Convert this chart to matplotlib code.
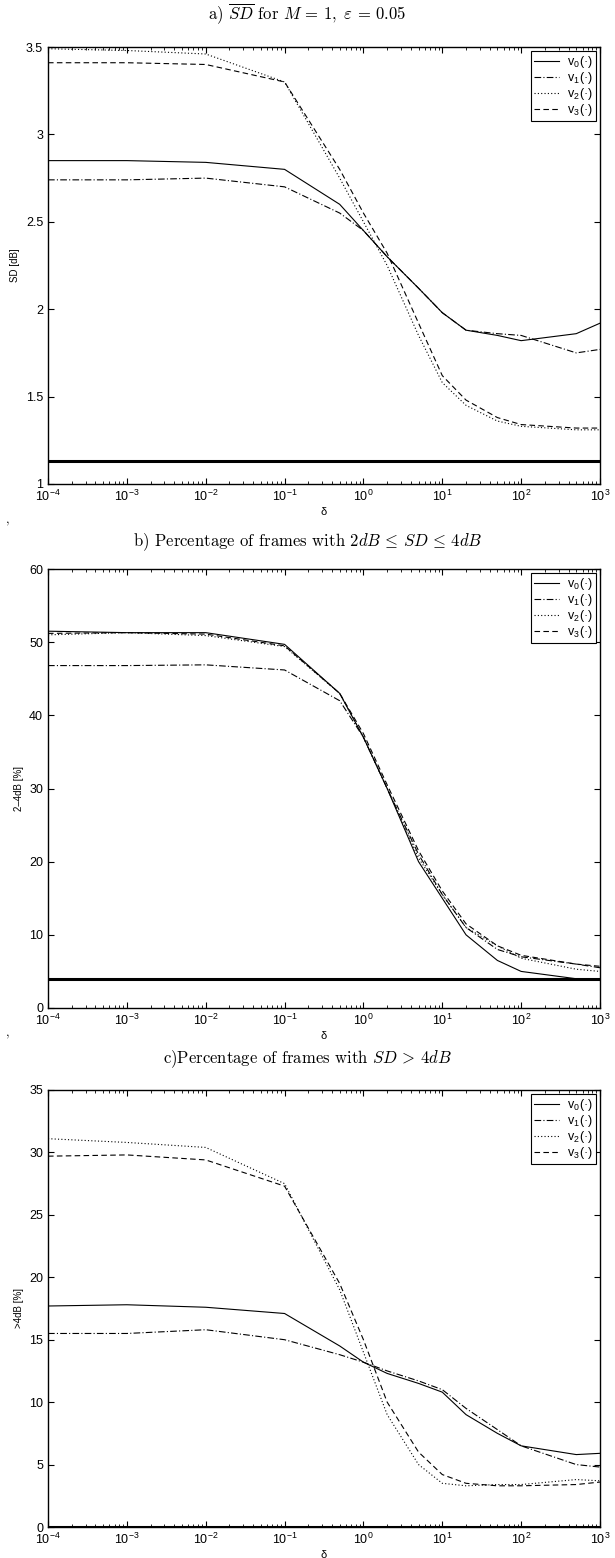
#!/usr/bin/env python3
"""Recreate the three-panel SD vs delta figure."""

import matplotlib
matplotlib.use("Agg")
import matplotlib.pyplot as plt
from matplotlib.ticker import NullFormatter

plt.rcParams.update({
    "font.family": ["Liberation Sans", "DejaVu Sans"],
    "font.size": 8,
    "mathtext.fontset": "cm",
    "xtick.direction": "in",
    "ytick.direction": "in",
    "xtick.top": True,
    "ytick.right": True,
})

# delta values at which curves were evaluated
delta = [1e-4, 1e-3, 1e-2, 1e-1, 0.5, 1, 2, 5, 10, 20, 50, 100, 500, 1000]

# a) mean SD [dB]
sd_v0 = [2.85, 2.85, 2.84, 2.80, 2.60, 2.45, 2.30, 2.12, 1.98, 1.88, 1.85, 1.82, 1.86, 1.92]
sd_v1 = [2.74, 2.74, 2.75, 2.70, 2.55, 2.45, 2.30, 2.12, 1.98, 1.88, 1.86, 1.85, 1.75, 1.77]
sd_v2 = [3.49, 3.48, 3.46, 3.30, 2.75, 2.50, 2.25, 1.85, 1.58, 1.45, 1.36, 1.33, 1.31, 1.31]
sd_v3 = [3.41, 3.41, 3.40, 3.30, 2.80, 2.55, 2.32, 1.92, 1.62, 1.48, 1.38, 1.34, 1.32, 1.32]
sd_ref = 1.13

# b) percentage of frames with 2dB <= SD <= 4dB
mid_v0 = [51.5, 51.3, 51.3, 49.7, 43.0, 37.0, 30.0, 20.0, 15.0, 10.0, 6.5, 5.0, 4.0, 4.0]
mid_v1 = [46.8, 46.8, 46.9, 46.2, 42.0, 37.0, 30.0, 21.0, 15.5, 11.0, 8.0, 7.0, 6.0, 5.5]
mid_v2 = [51.0, 51.3, 50.9, 49.4, 43.0, 37.0, 30.0, 20.5, 15.5, 11.0, 8.5, 6.8, 5.3, 5.0]
mid_v3 = [51.2, 51.3, 51.1, 49.5, 43.0, 37.5, 30.5, 21.5, 16.0, 11.5, 8.5, 7.2, 6.0, 5.7]
mid_ref = 4.0

# c) percentage of frames with SD > 4dB
hi_v0 = [17.7, 17.8, 17.6, 17.1, 14.5, 13.2, 12.3, 11.5, 10.8, 9.0, 7.5, 6.5, 5.8, 5.9]
hi_v1 = [15.5, 15.5, 15.8, 15.0, 13.8, 13.2, 12.5, 11.7, 11.0, 9.5, 7.8, 6.5, 5.0, 4.8]
hi_v2 = [31.1, 30.8, 30.4, 27.5, 19.0, 14.0, 9.0, 5.0, 3.5, 3.3, 3.4, 3.4, 3.8, 3.7]
hi_v3 = [29.7, 29.8, 29.4, 27.3, 19.5, 15.0, 10.0, 6.0, 4.2, 3.5, 3.3, 3.3, 3.4, 3.6]
hi_ref = 0.0

x_exps = list(range(-4, 4))
labels = [rf"v$_\mathdefault{{{i}}}$(·)" for i in range(4)]
styles = ["-", (0, (6, 2, 1, 2)), (0, (1, 2)), (0, (5, 3))]

panels = [
    (r"a) $\overline{SD}$ for $M\,=\,1,\ \varepsilon\,=\,0.05$",
     [sd_v0, sd_v1, sd_v2, sd_v3], sd_ref, "SD [dB]", (1, 3.5), [1, 1.5, 2, 2.5, 3, 3.5]),
    (r"b) Percentage of frames with $2dB\,\leq\,SD\,\leq\,4dB$",
     [mid_v0, mid_v1, mid_v2, mid_v3], mid_ref, "2\u20134dB [%]", (0, 60), range(0, 61, 10)),
    (r"c)Percentage of frames with $SD\,>\,4dB$",
     [hi_v0, hi_v1, hi_v2, hi_v3], hi_ref, ">4dB [%]", (0, 35), range(0, 36, 5)),
]

W, H = 615, 1558
fig = plt.figure(figsize=(W / 100, H / 100), dpi=100)

# axes boxes in pixels: (top, bottom)
boxes = [(47, 484), (569, 1008), (1090, 1527)]
left, right = 48, 600
titles_y = [14, 542, 1059]
commas_y = [520, 1033]

major = [10.0 ** e for e in x_exps]
minor = [m * 10.0 ** e for e in x_exps[:-1] for m in range(2, 10)]

for (title, series, ref, ylab, ylim, yticks), (top, bot), ty in zip(panels, boxes, titles_y):
    ax = fig.add_axes([left / W, 1 - bot / H, (right - left) / W, (bot - top) / H])
    for vals, ls, lab in zip(series, styles, labels):
        ax.plot(delta, vals, color="black", linestyle=ls, linewidth=0.8, label=lab)
    ax.axhline(ref, color="black", linewidth=2.2)
    ax.set_xscale("log")
    ax.set_xlim(1e-4, 1e3)
    ax.set_xticks(major)
    ax.set_xticklabels([rf"$\mathdefault{{10^{{{e}}}}}$" for e in x_exps])
    ax.set_xticks(minor, minor=True)
    ax.xaxis.set_minor_formatter(NullFormatter())
    ax.set_ylim(*ylim)
    ax.set_yticks(list(yticks))
    ax.set_yticklabels([f"{t:g}" for t in yticks])
    ax.set_ylabel(ylab, fontsize=7, labelpad=4)
    ax.set_xlabel("δ", fontsize=8, labelpad=2)
    ax.tick_params(labelsize=9, length=4, width=0.8)
    ax.tick_params(which="minor", length=2.5)
    for sp in ax.spines.values():
        sp.set_linewidth(1.0)
    leg = ax.legend(loc="upper right", fontsize=9, fancybox=False, framealpha=1,
                    edgecolor="black", handlelength=2.0, borderpad=0.25,
                    labelspacing=0.0, handletextpad=0.6, borderaxespad=0.3)
    leg.get_frame().set_linewidth(0.8)
    fig.text(0.5, 1 - ty / H, title, ha="center", va="center", fontsize=12,
             family="cmr10")

for cy in commas_y:
    fig.text(6 / W, 1 - cy / H, ",", ha="left", va="center", fontsize=9,
             family="cmr10")

fig.savefig("out.png", dpi=100)
